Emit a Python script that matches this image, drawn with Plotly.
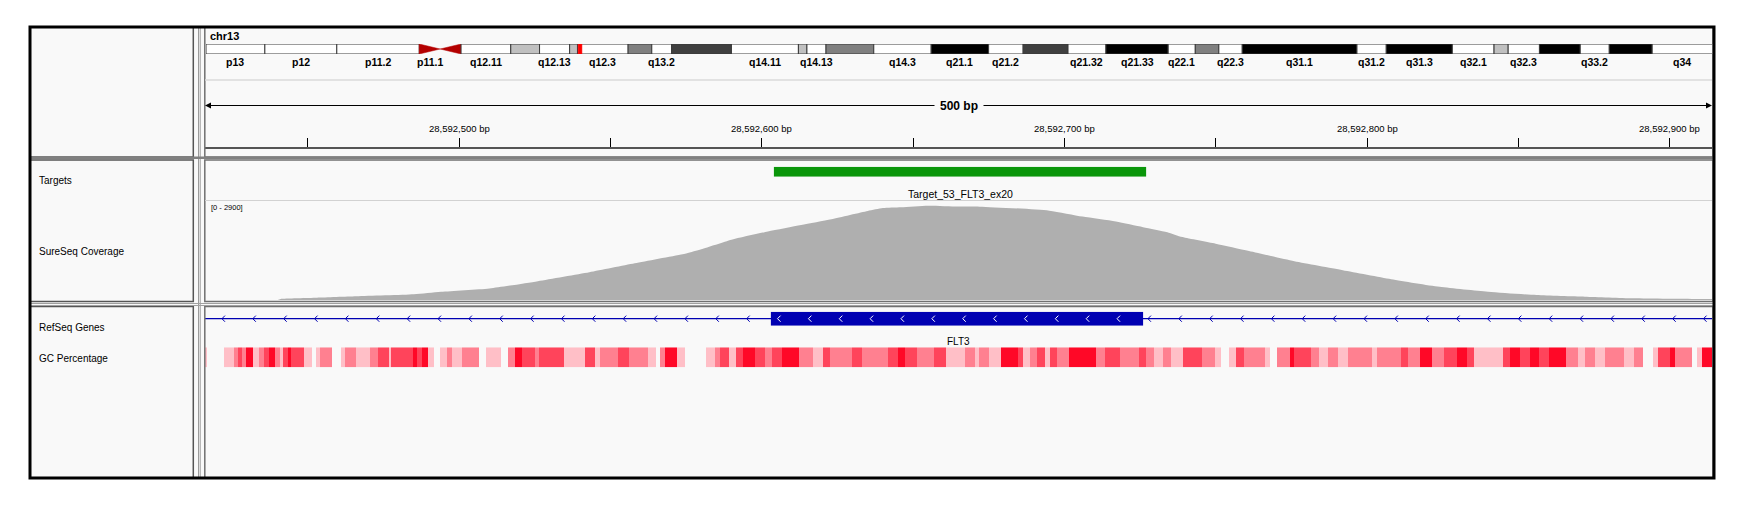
import numpy as np
import plotly.graph_objects as go

# the page body has an 8px margin, so the figure is drawn 8px in from the window corner
PAGE_MARGIN = 8
W, H = 1751 - 2 * PAGE_MARGIN, 508 - 2 * PAGE_MARGIN
FONT = "Liberation Sans, Arial, sans-serif"

# ---- data ----
chrom = "chr13"
chrom_len_mb = 115.17
view_start, view_end = 28592416, 28592914

band_name = ["p13", "p12", "p11.2", "p11.1", "q11", "q12.11", "q12.12", "q12.13", "q12.2",
             "q12.3", "q13.1", "q13.2", "q13.3", "q14.11", "q14.12", "q14.13", "q14.2",
             "q14.3", "q21.1", "q21.2", "q21.31", "q21.32", "q21.33", "q22.1", "q22.2",
             "q22.3", "q31.1", "q31.2", "q31.3", "q32.1", "q32.2", "q32.3", "q33.1",
             "q33.2", "q33.3", "q34"]
band_start = [0.0, 4.5, 10.0, 16.3, 17.9, 19.5, 23.3, 25.5, 27.8, 28.4, 32.27, 34.08, 35.6,
              40.17, 45.29, 45.94, 47.4, 51.05, 55.44, 59.83, 62.47, 65.9, 68.8, 73.56,
              75.63, 77.43, 79.22, 87.99, 90.23, 95.28, 98.47, 99.55, 101.94, 105.06,
              107.28, 110.56]
band_end = band_start[1:] + [chrom_len_mb]
band_stain = ["gneg", "gneg", "gneg", "acen", "acen", "gneg", "gpos25", "gneg", "gpos25",
              "gneg", "gpos50", "gneg", "gpos75", "gneg", "gpos25", "gneg", "gpos50",
              "gneg", "gpos100", "gneg", "gpos75", "gneg", "gpos100", "gneg", "gpos50",
              "gneg", "gpos100", "gneg", "gpos100", "gneg", "gpos25", "gneg", "gpos100",
              "gneg", "gpos100", "gneg"]
band_labels_shown = ["p13", "p12", "p11.2", "p11.1", "q12.11", "q12.13", "q12.3", "q13.2",
                     "q14.11", "q14.13", "q14.3", "q21.1", "q21.2", "q21.32", "q21.33",
                     "q22.1", "q22.3", "q31.1", "q31.2", "q31.3", "q32.1", "q32.3", "q33.2",
                     "q34"]

ruler_ticks = [28592450, 28592500, 28592550, 28592600, 28592650, 28592700,
               28592750, 28592800, 28592850, 28592900]
ruler_labels = [28592500, 28592600, 28592700, 28592800, 28592900]

target_name = "Target_53_FLT3_ex20"
target_start, target_end = 28592604, 28592727

cov_max = 2900
cov_pos = [28592416, 28592440, 28592441, 28592453, 28592466, 28592485, 28592494, 28592510,
           28592526, 28592543, 28592558, 28592575, 28592580, 28592590, 28592602, 28592613,
           28592623, 28592635, 28592640, 28592646, 28592655, 28592665, 28592672, 28592695,
           28592706, 28592717, 28592726, 28592734, 28592739, 28592750, 28592761, 28592776,
           28592792, 28592808, 28592824, 28592840, 28592856, 28592872, 28592888, 28592910,
           28592914]
cov_val = [0, 0, 30, 65, 107, 165, 240, 338, 551, 812, 1073, 1360, 1480, 1760, 2000, 2190,
           2360, 2600, 2685, 2710, 2755, 2730, 2726, 2610, 2436, 2291, 2127, 1981, 1837,
           1643, 1430, 1131, 870, 609, 386, 241, 145, 96, 49, 29, 29]

gene_name = "FLT3"
gene_start, gene_end = 28577411, 28674729
exon_start = [28592603]
exon_end = [28592726]

# GC windows: start offset (bp from view start) and GC percent (None = no data)
gc_bin_offset = [0.0, 0.6, 6.4, 9.6, 10.8, 12.1, 13.7, 15.7, 17.9, 19.5,
                 21.1, 23.2, 24.8, 25.9, 27.5, 28.5, 32.8, 35.5, 36.8, 38.1,
                 41.9, 44.8, 46.4, 49.9, 54.4, 57.3, 60.8, 61.6, 68.8, 70.1,
                 71.7, 73.6, 75.6, 77.6, 80.0, 81.6, 84.9, 90.5, 92.9, 97.7,
                 100.1, 102.5, 104.9, 108.9, 110.5, 118.5, 125.7, 128.9, 130.5, 136.4,
                 140.1, 146.5, 148.9, 150.5, 152.1, 156.1, 158.5, 165.4, 168.5, 170.1,
                 173.3, 175.4, 177.8, 181.8, 185.0, 187.4, 190.6, 196.2, 201.0, 204.2,
                 206.6, 213.8, 217.0, 225.8, 229.0, 231.4, 235.4, 241.0, 245.0, 251.0,
                 254.3, 255.9, 259.1, 263.1, 268.7, 270.3, 272.7, 275.1, 277.5, 279.1,
                 281.5, 285.5, 294.3, 297.5, 302.3, 308.7, 311.1, 313.5, 316.7, 319.1,
                 323.1, 329.5, 333.6, 335.6, 338.4, 340.8, 343.2, 350.4, 352.0, 354.4,
                 358.4, 360.0, 365.6, 368.0, 371.2, 374.4, 377.6, 385.6, 387.2, 395.2,
                 397.6, 401.6, 405.6, 409.6, 413.7, 416.9, 419.3, 428.9, 431.3, 434.5,
                 437.7, 440.9, 444.1, 449.7, 453.7, 456.1, 459.3, 462.5, 468.9, 472.1,
                 475.3, 478.5, 480.1, 484.1, 485.7, 491.4, 493.0, 494.6]
gc_pct = [40, None, 40, 55, 69, 55, 83, 40, 55, 69,
          83, 55, 40, 69, 83, 69, 40, None, 40, 55,
          None, 40, 55, 40, 55, 69, 40, 69, 83, 69,
          83, 40, None, 40, 55, 40, 55, None, 40, None,
          55, 83, 69, 55, 69, 40, 69, 40, 55, 69,
          55, 40, None, 55, 83, 40, None, 40, 55, 69,
          40, 69, 83, 69, 55, 69, 83, 55, 40, 69,
          55, 69, 55, 69, 83, 69, 55, 69, 40, 55,
          40, 55, 40, 83, 69, 40, 55, 69, 40, 69,
          55, 83, 55, 69, 55, 69, 55, 40, 55, 40,
          69, 55, 40, None, 40, 69, 55, 40, None, 55,
          83, 69, 55, 40, 55, 40, 55, 40, 55, 69,
          55, 83, 55, 69, 83, 69, 40, 69, 83, 69,
          83, 69, 83, 55, 40, 55, 40, 55, 40, 55,
          None, 40, 69, 83, 55, None, 40, 83]

track_names = ["Targets", "SureSeq Coverage", "RefSeq Genes", "GC Percentage"]

# ---- style ----
stain_color = {"gneg": "#ffffff", "gpos25": "#c0c0c0", "gpos50": "#808080",
               "gpos75": "#404040", "gpos100": "#000000"}
acen_color = "#b40000"
gene_color = "#0000b2"
chevron_step = 10.2
chevron_first = 5.6


def fx(px):
    # window pixel -> paper fraction
    return (px - PAGE_MARGIN) / W


def fy(px):
    return 1 - (px - PAGE_MARGIN) / H


fig = go.Figure()

# anchor traces so the ruler axis and ideogram axes get their own subplots
fig.add_trace(go.Scatter(x=[view_start, view_end], y=[0, 0], mode="markers", opacity=0,
                         xaxis="x", yaxis="y", hoverinfo="skip"))
fig.add_trace(go.Scatter(x=[0, chrom_len_mb], y=[0, 0], mode="markers", opacity=0,
                         xaxis="x2", yaxis="y5", hoverinfo="skip"))

# target bar
fig.add_trace(go.Scatter(x=[target_start, target_end, target_end, target_start, target_start],
                         y=[0, 0, 1, 1, 0], fill="toself", mode="lines",
                         line=dict(width=0, color="#0a960a"), fillcolor="#0a960a",
                         xaxis="x", yaxis="y6", hoverinfo="skip"))

# coverage
fig.add_trace(go.Scatter(x=cov_pos, y=cov_val, fill="tozeroy", mode="lines",
                         line=dict(width=0, color="#afafaf", shape="spline", smoothing=0.6),
                         fillcolor="#afafaf", xaxis="x", yaxis="y2", hoverinfo="skip"))

# gene: intron line
g0, g1 = max(gene_start, view_start), min(gene_end, view_end)
fig.add_trace(go.Scatter(x=[g0, g1], y=[0.5, 0.5], mode="lines",
                         line=dict(width=1.2, color=gene_color),
                         xaxis="x", yaxis="y3", hoverinfo="skip"))
for s, e in zip(exon_start, exon_end):
    fig.add_trace(go.Scatter(x=[s, e, e, s, s], y=[0, 0, 1, 1, 0], fill="toself",
                             mode="lines", line=dict(width=0, color=gene_color),
                             fillcolor=gene_color, xaxis="x", yaxis="y3",
                             hoverinfo="skip"))

# strand chevrons
cx_blue, cy_blue, cx_white, cy_white = [], [], [], []
for p in np.arange(view_start + chevron_first, view_end, chevron_step):
    inside = any(s <= p <= e for s, e in zip(exon_start, exon_end))
    xs, ys = (cx_white, cy_white) if inside else (cx_blue, cy_blue)
    xs += [p + 1.0, p, p + 1.0, None]
    ys += [0.72, 0.5, 0.28, None]
fig.add_trace(go.Scatter(x=cx_blue, y=cy_blue, mode="lines",
                         line=dict(width=1, color=gene_color),
                         xaxis="x", yaxis="y3", hoverinfo="skip"))
fig.add_trace(go.Scatter(x=cx_white, y=cy_white, mode="lines",
                         line=dict(width=1, color="white"),
                         xaxis="x", yaxis="y3", hoverinfo="skip"))

# GC percentage
gc_edges = [view_start + o for o in gc_bin_offset] + [view_end]
fig.add_trace(go.Heatmap(x=gc_edges, y=[0, 1], z=[gc_pct], zmin=25, zmax=85,
                         colorscale=[[0, "#ffffff"], [1, "#ff0020"]], showscale=False,
                         xaxis="x", yaxis="y4", hoverinfo="skip"))

shapes = []
# panel background and frame
shapes.append(dict(type="rect", xref="paper", yref="paper", x0=fx(30), x1=fx(1714),
                   y0=fy(478), y1=fy(27), fillcolor="#f9f9f9", line=dict(width=0),
                   layer="below"))
for y0, y1 in [(27, 157), (160, 301.5), (306.5, 478)]:
    shapes.append(dict(type="rect", xref="paper", yref="paper", x0=fx(30), x1=fx(193.3),
                       y0=fy(y1), y1=fy(y0), line=dict(width=1.5, color="#555555")))
    shapes.append(dict(type="rect", xref="paper", yref="paper", x0=fx(204.8), x1=fx(1713),
                       y0=fy(y1), y1=fy(y0), line=dict(width=1.5, color="#707070")))
for xv in [198.5, 200.2]:
    shapes.append(dict(type="line", xref="paper", yref="paper", x0=fx(xv), x1=fx(xv),
                       y0=fy(478), y1=fy(27), line=dict(width=1, color="#9a9a9a")))
for yv, c, w in [(157.8, "#808080", 2.5), (303.5, "#a0a0a0", 1), (305.5, "#a0a0a0", 1)]:
    shapes.append(dict(type="line", xref="paper", yref="paper", x0=fx(30), x1=fx(1714),
                       y0=fy(yv), y1=fy(yv), line=dict(width=w, color=c)))
# header separator, coverage top line
shapes.append(dict(type="line", xref="paper", yref="paper", x0=fx(205), x1=fx(1712),
                   y0=fy(80), y1=fy(80), line=dict(width=1.5, color="#dadada")))
shapes.append(dict(type="line", xref="paper", yref="paper", x0=fx(205), x1=fx(1712),
                   y0=fy(200.5), y1=fy(200.5), line=dict(width=1, color="#d2d2d2")))
shapes.append(dict(type="rect", xref="paper", yref="paper", x0=fx(30), x1=fx(1714),
                   y0=fy(478), y1=fy(27), line=dict(width=3, color="black")))

# ideogram bands
for s, e, st, nm in zip(band_start, band_end, band_stain, band_name):
    if st == "acen":
        if nm.startswith("p"):
            path = f"M {s},0 L {s},1 L {e},0.5 Z"
        else:
            path = f"M {e},0 L {e},1 L {s},0.5 Z"
        shapes.append(dict(type="path", xref="x2", yref="y5", path=path,
                           fillcolor=acen_color, line=dict(width=0.5, color=acen_color)))
    else:
        shapes.append(dict(type="rect", xref="x2", yref="y5", x0=s, x1=e, y0=0, y1=1,
                           fillcolor=stain_color[st], line=dict(width=1, color="#3a3a3a")))
view_mid_mb = (view_start + view_end) / 2 / 1e6
shapes.append(dict(type="rect", xref="x2", yref="y5", x0=view_mid_mb - 0.13,
                   x1=view_mid_mb + 0.13, y0=-0.3, y1=1.2, fillcolor="#ff0000",
                   line=dict(width=1, color="#ff0000")))

annotations = []


def label(text, x, y, xref="paper", size=10, bold=False, xanchor="center", **kw):
    annotations.append(dict(text=f"<b>{text}</b>" if bold else text, x=x, xref=xref,
                            y=fy(y), yref="paper", xanchor=xanchor, yanchor="middle",
                            showarrow=False,
                            font=dict(size=size, family=FONT, color="black"), **kw))


label(chrom, fx(208), 36, size=11, bold=True, xanchor="left")
for s, e, nm in zip(band_start, band_end, band_name):
    if nm in band_labels_shown:
        label(nm, (s + e) / 2, 61.5, xref="x2", size=10.5, bold=True)

# ruler arrows
view_mid = (view_start + view_end) / 2
for end in [view_start, view_end]:
    annotations.append(dict(text="", x=end, xref="x", y=fy(105.5), yref="paper",
                            ax=view_mid, axref="x", ay=0, ayref="pixel",
                            showarrow=True, arrowhead=2, arrowsize=1.2, arrowwidth=1,
                            arrowcolor="black", standoff=0))
label("500 bp", view_mid, 105.5, xref="x", size=12, bold=True,
      bgcolor="#f9f9f9", borderpad=5)
for t in ruler_labels:
    label(f"{t:,} bp", t, 128, xref="x", size=9.5)

label(target_name, (target_start + target_end) / 2, 194, xref="x", size=10.5)
label(f"[0 - {cov_max}]", fx(209), 207.5, size=7.5, xanchor="left")
label(gene_name, view_mid, 341, xref="x", size=10)
for name, yp in zip(track_names, [181, 251.7, 327.5, 358.3]):
    label(name, fx(36.5), yp, size=10, xanchor="left")

hidden = dict(visible=False, fixedrange=True)
fig.update_layout(
    width=W, height=H, margin=dict(l=0, r=0, t=0, b=0),
    paper_bgcolor="white", plot_bgcolor="rgba(0,0,0,0)",
    showlegend=False, hovermode=False,
    xaxis=dict(domain=[fx(205), fx(1712)], range=[view_start, view_end], anchor="y",
               tickvals=ruler_ticks, ticks="inside", ticklen=9, tickwidth=1,
               tickcolor="black", showticklabels=False, showgrid=False, zeroline=False,
               showline=True, linecolor="#555555", linewidth=1.5, fixedrange=True),
    yaxis=dict(domain=[fy(146.5), fy(132)], range=[0, 1], **hidden),
    yaxis2=dict(domain=[fy(300), fy(200.7)], range=[0, cov_max], anchor="x", **hidden),
    yaxis3=dict(domain=[fy(325.7), fy(311.7)], range=[0, 1], anchor="x", **hidden),
    yaxis4=dict(domain=[fy(367.3), fy(347.3)], range=[0, 1], anchor="x", **hidden),
    xaxis2=dict(domain=[fx(206), fx(1712.5)], range=[0, chrom_len_mb], anchor="y5", **hidden),
    yaxis5=dict(domain=[fy(54), fy(44)], range=[0, 1], anchor="x2", **hidden),
    yaxis6=dict(domain=[fy(176.7), fy(166.7)], range=[0, 1], anchor="x", **hidden),
    shapes=shapes, annotations=annotations,
)

fig.write_html("out.html")
